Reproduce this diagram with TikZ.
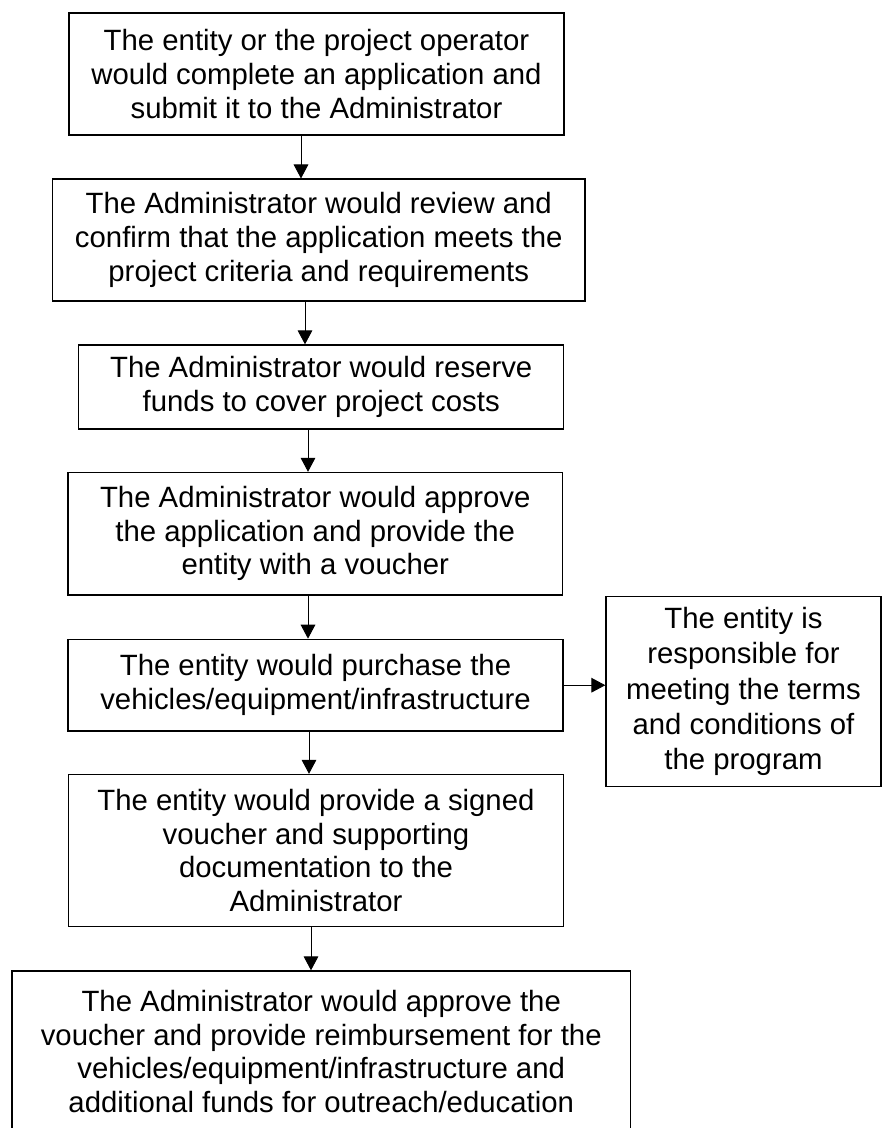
\documentclass[tikz,border=0pt]{standalone}
\usepackage{fontspec}
\setmainfont{Liberation Sans}
\usetikzlibrary{arrows.meta}

\tikzset{every picture/.style={line width=0.75pt}}
\tikzset{
  stepbox/.style={draw, line width=1pt, align=center, inner sep=0pt,
    font=\fontsize{22}{25.2}\selectfont},
  flow/.style={-{Triangle[length=10.5pt,width=11pt]}, line width=0.75pt},
}

\begin{document}
\begin{tikzpicture}[x=0.75pt,y=0.75pt,yscale=-1,xscale=1]
\useasboundingbox (0,0) rectangle (882,1128);

% Process boxes
\node[stepbox, minimum width=371.25pt, minimum height=91.7pt] (apply) at (316.5,74)
  {The entity or the project operator\\would complete an application and\\submit it to the Administrator};
\node[stepbox, minimum width=399.4pt, minimum height=91.3pt] (review) at (318.75,240)
  {The Administrator would review and\\confirm that the application meets the\\project criteria and requirements};
\node[stepbox, minimum width=363.75pt, minimum height=63pt] (reserve) at (321.2,387)
  {The Administrator would reserve\\funds to cover project costs};
\node[stepbox, minimum width=370.9pt, minimum height=91.9pt] (approve) at (315.25,533.75)
  {The Administrator would approve\\the application and provide the\\entity with a voucher};
\node[stepbox, minimum width=371.25pt, minimum height=68.8pt] (purchase) at (315.5,685.2)
  {The entity would purchase the\\vehicles/equipment/infrastructure};
\node[stepbox, minimum width=206.25pt, minimum height=142.5pt,
  font=\fontsize{22}{26.5}\selectfont] (terms) at (743.5,691.7)
  {The entity is\\responsible for\\meeting the terms\\and conditions of\\the program};
\node[stepbox, minimum width=371.25pt, minimum height=114pt] (submit) at (316,850.5)
  {The entity would provide a signed\\voucher and supporting\\documentation to the\\Administrator};
\node[stepbox, minimum width=463.9pt, minimum height=120.75pt] (reimburse) at (321.25,1051.5)
  {The Administrator would approve the\\voucher and provide reimbursement for the\\vehicles/equipment/infrastructure and\\additional funds for outreach/education};

% Arrows
\draw[flow] (apply.south -| 301,0) -- (review.north -| 301,0);
\draw[flow] (review.south -| 305,0) -- (reserve.north -| 305,0);
\draw[flow] (reserve.south -| 308,0) -- (approve.north -| 308,0);
\draw[flow] (approve.south -| 308,0) -- (purchase.north -| 308,0);
\draw[flow] (purchase.south -| 309,0) -- (submit.north -| 309,0);
\draw[flow] (submit.south -| 311,0) -- (reimburse.north -| 311,0);
\draw[flow] (purchase.east) -- (purchase.east -| terms.west);

\end{tikzpicture}
\end{document}
